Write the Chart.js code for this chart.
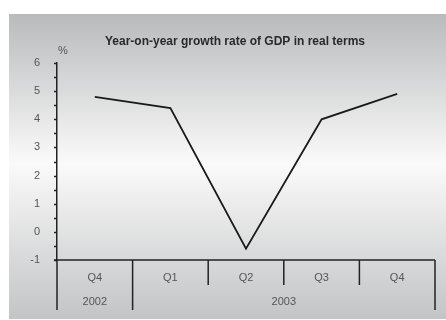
<!DOCTYPE html>
<html><head><meta charset="utf-8">
<script src="https://cdn.jsdelivr.net/npm/chart.js@4.4.0/dist/chart.umd.min.js"></script>
<style>html,body{margin:0;padding:0;background:#fff}#c{display:block}</style>
</head><body>
<canvas id="c" width="446" height="320"></canvas>
<script>
const quarters = ["Q4", "Q1", "Q2", "Q3", "Q4"];
const years = [{label: "2002", from: 0, to: 0}, {label: "2003", from: 1, to: 4}];
const growth = [4.8, 4.4, -0.6, 4.0, 4.9];
const yTicks = [-1, 0, 1, 2, 3, 4, 5, 6];
const titleText = "Year-on-year growth rate of GDP in real terms";
const unitText = "%";

const FONT = "'Liberation Sans', Arial, sans-serif";

const deco = {
  id: 'deco',
  beforeDraw(chart) {
    const ctx = chart.ctx;
    const g = ctx.createLinearGradient(0, 14, 0, 319);
    g.addColorStop(0, '#b9babc');
    g.addColorStop(0.49, '#fafafa');
    g.addColorStop(1, '#c3c4c6');
    ctx.save();
    ctx.fillStyle = g;
    ctx.fillRect(9, 14, 437, 305);
    ctx.fillStyle = '#2a2a2a';
    ctx.font = "bold 12px " + FONT;
    ctx.textAlign = 'center';
    ctx.textBaseline = 'middle';
    ctx.fillText(titleText, 235, 42);
    ctx.fillStyle = '#555';
    ctx.font = "11px " + FONT;
    ctx.fillText(unitText, 63, 51);
    ctx.restore();
  },
  afterDraw(chart) {
    const ctx = chart.ctx;
    const x = chart.scales.x, y = chart.scales.y;
    const ca = chart.chartArea;
    const half = (x.getPixelForValue(1) - x.getPixelForValue(0)) / 2;
    ctx.save();
    ctx.strokeStyle = '#222';
    ctx.lineWidth = 1.5;
    for (let v = y.min; v <= y.max + 1e-9; v += 0.5) {
      const py = Math.round(y.getPixelForValue(v)) + 0.5;
      ctx.beginPath();
      ctx.moveTo(ca.left - 3, py);
      ctx.lineTo(ca.left, py);
      ctx.stroke();
    }
    ctx.beginPath();
    ctx.moveTo(ca.left - 3, ca.bottom);
    ctx.lineTo(ca.right, ca.bottom);
    ctx.stroke();
    const yearEdges = new Set();
    years.forEach(yr => { yearEdges.add(yr.from); yearEdges.add(yr.to + 1); });
    for (let i = 0; i <= quarters.length; i++) {
      const px = x.getPixelForValue(i) - half;
      const len = yearEdges.has(i) ? 50 : 25;
      ctx.beginPath();
      ctx.moveTo(px, ca.bottom);
      ctx.lineTo(px, ca.bottom + len);
      ctx.stroke();
    }
    ctx.fillStyle = '#555';
    ctx.font = "11px " + FONT;
    ctx.textAlign = 'center';
    ctx.textBaseline = 'middle';
    years.forEach(yr => {
      const a = x.getPixelForValue(yr.from) - half;
      const b = x.getPixelForValue(yr.to) + half;
      ctx.fillText(yr.label, (a + b) / 2, ca.bottom + 42);
    });
    ctx.restore();
  }
};

new Chart(document.getElementById('c'), {
  type: 'line',
  data: {
    labels: quarters,
    datasets: [{
      data: growth,
      borderColor: '#1a1a1a',
      borderWidth: 1.8,
      pointRadius: 0,
      tension: 0,
      fill: false
    }]
  },
  options: {
    responsive: false,
    animation: false,
    layout: {padding: {top: 63, right: 11, left: 0, bottom: 0}},
    plugins: {legend: {display: false}, tooltip: {enabled: false}},
    scales: {
      x: {
        offset: true,
        grid: {display: false},
        border: {display: false},
        ticks: {color: '#555', font: {size: 11, family: FONT}, padding: 3, maxRotation: 0},
        afterFit(s) { s.height = 60; }
      },
      y: {
        min: -1, max: 6,
        afterBuildTicks(s) { s.ticks = yTicks.map(v => ({value: v})); },
        grid: {display: false},
        border: {display: true, color: '#222', width: 1.5},
        ticks: {color: '#555', font: {size: 11, family: FONT}, padding: 9},
        afterFit(s) { s.width = 57; }
      }
    }
  },
  plugins: [deco]
});
</script>
</body></html>
